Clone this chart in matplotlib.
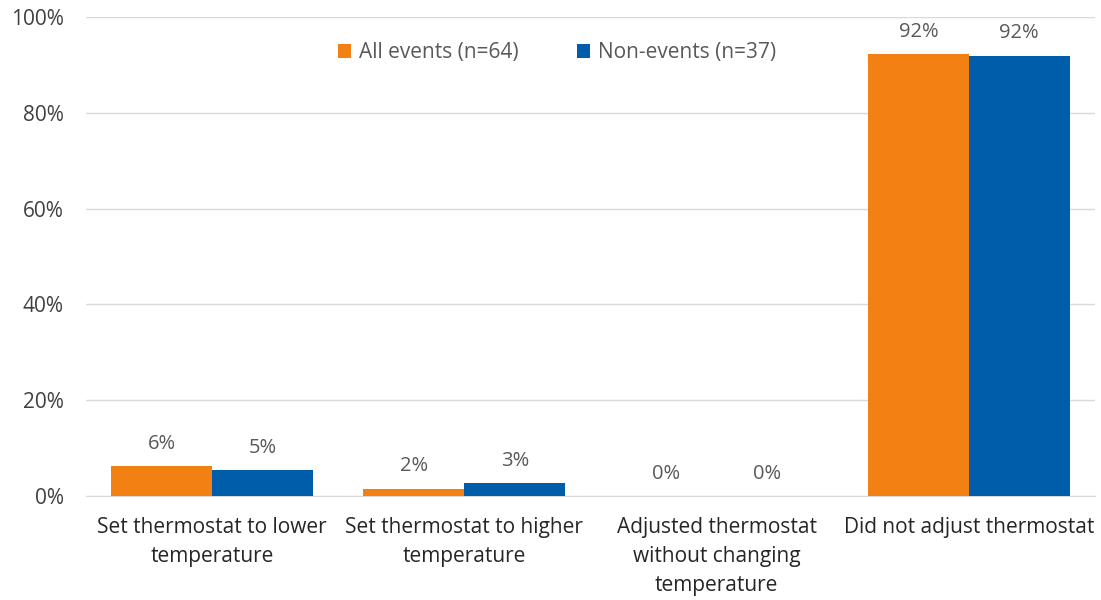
import matplotlib
matplotlib.use("Agg")
import matplotlib.pyplot as plt
import numpy as np
from matplotlib.ticker import FuncFormatter

categories = ["Set thermostat to lower\ntemperature",
              "Set thermostat to higher\ntemperature",
              "Adjusted thermostat\nwithout changing\ntemperature",
              "Did not adjust thermostat"]
all_events = [6.25, 1.56, 0.0, 92.19]
non_events = [5.41, 2.70, 0.0, 91.89]
all_labels = ["6%", "2%", "0%", "92%"]
non_labels = ["5%", "3%", "0%", "92%"]
series_names = ["All events (n=64)", "Non-events (n=37)"]

plt.rcParams['font.family'] = ['Open Sans', 'DejaVu Sans']

fig = plt.figure(figsize=(11.01, 6.0), dpi=100)
ax = fig.add_axes([0.078, 0.1733, 0.9165, 0.7984])

orange = "#F28012"
blue = "#005DAA"
x = np.arange(len(categories))
w = 0.4
b1 = ax.bar(x - w/2, all_events, w, color=orange, label=series_names[0], zorder=3)
b2 = ax.bar(x + w/2, non_events, w, color=blue, label=series_names[1], zorder=3)

for bars, labs in ((b1, all_labels), (b2, non_labels)):
    for r, lab in zip(bars, labs):
        ax.annotate(lab, (r.get_x() + r.get_width()/2, r.get_height()),
                    xytext=(0, 9), textcoords="offset points",
                    ha="center", va="bottom", fontsize=14.5, color="#595959")

ax.set_xlim(-0.5, len(categories) - 0.5)
ax.set_ylim(0, 100)
ax.set_yticks(np.arange(0, 101, 20))
ax.yaxis.set_major_formatter(FuncFormatter(lambda v, p: f"{int(v)}%"))
ax.set_xticks(x)
ax.set_xticklabels(categories, fontsize=15, color="#262626", linespacing=1.5)
ax.tick_params(axis='y', labelsize=15, labelcolor="#404040", length=0, pad=16)
ax.tick_params(axis='x', length=0, pad=15)
ax.grid(axis='y', color="#d9d9d9", linewidth=1, zorder=0)
for s in ("top", "right", "left"):
    ax.spines[s].set_visible(False)
ax.spines["bottom"].set_color("#d9d9d9")

leg = fig.legend(handles=[b1, b2], labels=series_names, loc="center",
                 bbox_to_anchor=(0.506, 0.912), ncol=2, frameon=False,
                 fontsize=15, handlelength=0.6, handleheight=0.6, columnspacing=2.8,
                 handletextpad=0.4, labelcolor="#595959")

fig.savefig("out.png", dpi=100)
